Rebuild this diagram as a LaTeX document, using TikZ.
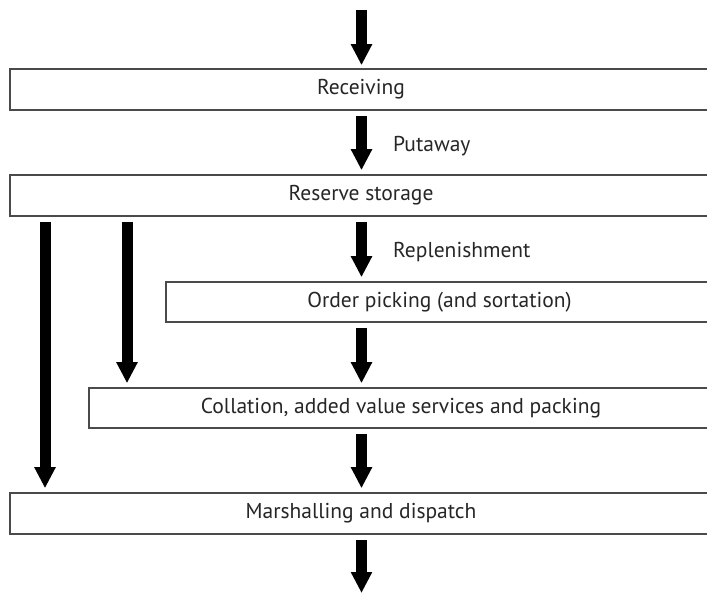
\documentclass[tikz,border=0pt]{standalone}
\usepackage{fontspec}
\setmainfont{PT Sans}
\usetikzlibrary{arrows.meta}
\definecolor{boxline}{HTML}{4A4A4A}
\tikzset{
  box/.style={draw=boxline, line width=1.6pt, fill=white, rectangle, inner sep=0pt,
    font=\fontsize{21.5}{24}\selectfont, text=black!85},
  flow/.style={line width=11pt, -{Triangle[width=20pt,length=21pt]}, black},
  lbl/.style={anchor=west, inner sep=0pt, font=\fontsize{21.5}{24}\selectfont, text=black!85},
}
\begin{document}
\begin{tikzpicture}[x=1pt,y=-1pt]
\useasboundingbox (0,0) rectangle (707,594);
\clip (0,0) rectangle (707,594);
% boxes (right edges run past the picture)
\node[box, minimum width=702pt, minimum height=41pt] (rec) at (361,89.5) {Receiving};
\node[box, minimum width=702pt, minimum height=41pt] (res) at (361,195.5) {Reserve storage};
\node[box, minimum width=547pt, minimum height=40pt] (op) at (439.5,302) {Order picking (and sortation)};
\node[box, minimum width=624pt, minimum height=40pt] (col) at (401,408) {Collation, added value services and packing};
\node[box, minimum width=702pt, minimum height=41pt] (mar) at (361,513.5) {Marshalling and dispatch};
% free ends
\coordinate (in) at (361.5,10);
\coordinate (out) at (361.5,593);
\coordinate (xa) at (45,0);
\coordinate (xb) at (127,0);
\coordinate (xm) at (361.5,0);
% connectors
\draw[flow, shorten >=3pt] (in) -- (rec.north -| xm);
\draw[flow, shorten <=5pt, shorten >=4pt] (rec.south -| xm) -- (res.north -| xm);
\draw[flow, shorten <=5pt, shorten >=4pt] (res.south -| xm) -- (op.north -| xm);
\draw[flow, shorten <=5pt, shorten >=4pt] (op.south -| xm) -- (col.north -| xm);
\draw[flow, shorten <=5pt, shorten >=4pt] (col.south -| xm) -- (mar.north -| xm);
\draw[flow, shorten <=5pt] (mar.south -| xm) -- (out);
\draw[flow, shorten <=5pt, shorten >=4pt] (res.south -| xa) -- (mar.north -| xa);
\draw[flow, shorten <=5pt, shorten >=4pt] (res.south -| xb) -- (col.north -| xb);
% labels
\node[lbl] (put) at (393,146) {Putaway};
\node[lbl] (repl) at (393,252) {Replenishment};
\end{tikzpicture}
\end{document}
